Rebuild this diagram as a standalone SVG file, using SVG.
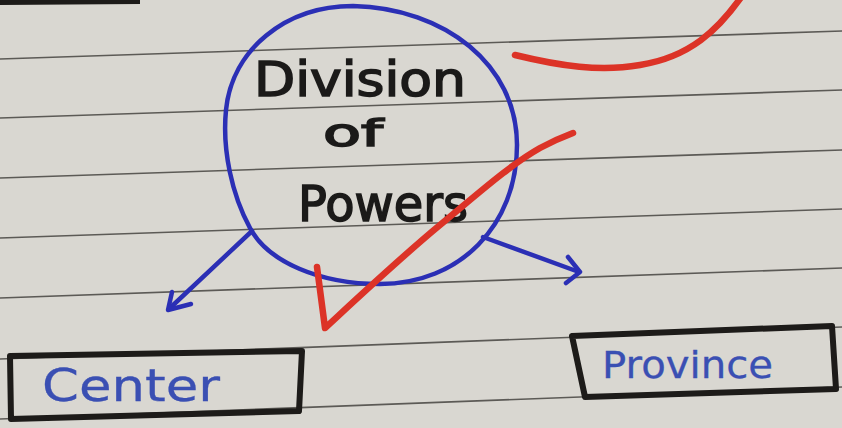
<svg xmlns="http://www.w3.org/2000/svg" width="842" height="428" viewBox="0 0 842 428">
  <defs>
    <style>
      .rule { stroke: #5c5a56; stroke-width: 1.6; fill: none; }
      .ink-blue { stroke: #2b2fb5; stroke-width: 4.5; fill: none; stroke-linecap: round; stroke-linejoin: round; }
      .box { stroke: #1d1b19; stroke-width: 6; fill: none; stroke-linejoin: round; }
      .red { stroke: #dc3327; stroke-width: 6.5; fill: none; stroke-linecap: round; stroke-linejoin: round; }
      .marker { font-family: "DejaVu Sans", "Liberation Sans", sans-serif; fill: #1b1a19; stroke: #1b1a19; stroke-width: 1.6; }
      .pen { font-family: "DejaVu Sans", "Liberation Sans", sans-serif; fill: #3a4fb3; stroke: #3a4fb3; stroke-width: 0.3; }
    </style>
  </defs>

  <!-- paper -->
  <rect x="0" y="0" width="842" height="428" fill="#d9d7d1"/>
  <g id="paper-lines">
    <line class="rule" x1="0" y1="59" x2="842" y2="31"/>
    <line class="rule" x1="0" y1="118" x2="842" y2="90"/>
    <line class="rule" x1="0" y1="178" x2="842" y2="150"/>
    <line class="rule" x1="0" y1="238" x2="842" y2="209"/>
    <line class="rule" x1="0" y1="298" x2="842" y2="268"/>
    <line class="rule" x1="0" y1="359" x2="842" y2="327"/>
    <line class="rule" x1="0" y1="419" x2="842" y2="387"/>
  </g>
  <path d="M0,2 L140,1" stroke="#1d1b19" stroke-width="6" fill="none"/>

  <!-- connectors -->
  <g id="connectors">
    <path class="ink-blue" d="M252,231 L170,308"/>
    <path class="ink-blue" d="M172,292 L168,310 L191,304"/>
    <path class="ink-blue" d="M483,237 L579,272"/>
    <path class="ink-blue" d="M568,257 L580,272 L566,283"/>
  </g>

  <!-- central node -->
  <g id="node-division">
    <path class="ink-blue" d="M353,6 C445,8 517,65 517,145 C517,225 460,284 380,284 C320,284 268,262 250,228 C232,195 222,150 226,110 C232,50 285,6 353,6 Z"/>
    <text class="marker" x="254" y="96" font-size="48" textLength="212" lengthAdjust="spacingAndGlyphs">Division</text>
    <text class="marker" x="323" y="146" font-size="38" textLength="60" lengthAdjust="spacingAndGlyphs">of</text>
    <text class="marker" x="298" y="221" font-size="50" textLength="170" lengthAdjust="spacingAndGlyphs">Powers</text>
  </g>

  <!-- center node -->
  <g id="node-center">
    <path class="box" d="M10,356 L302,351 L299,411 L11,419 Z"/>
    <text class="pen" x="42" y="401" font-size="44" textLength="178" lengthAdjust="spacingAndGlyphs">Center</text>
  </g>

  <!-- province node -->
  <g id="node-province">
    <path class="box" d="M572,336 L832,326 L836,389 L585,397 Z"/>
    <text class="pen" x="602" y="378" font-size="38" textLength="171" lengthAdjust="spacingAndGlyphs">Province</text>
  </g>

  <!-- red marks -->
  <g id="marks">
    <path class="red" d="M317,267 L325,328 C350,305 400,258 440,225 C480,192 510,165 540,148 C555,140 565,136 573,133"/>
    <path class="red" d="M515,55 C560,66 600,72 640,65 C690,57 718,30 742,-4"/>
  </g>
</svg>
